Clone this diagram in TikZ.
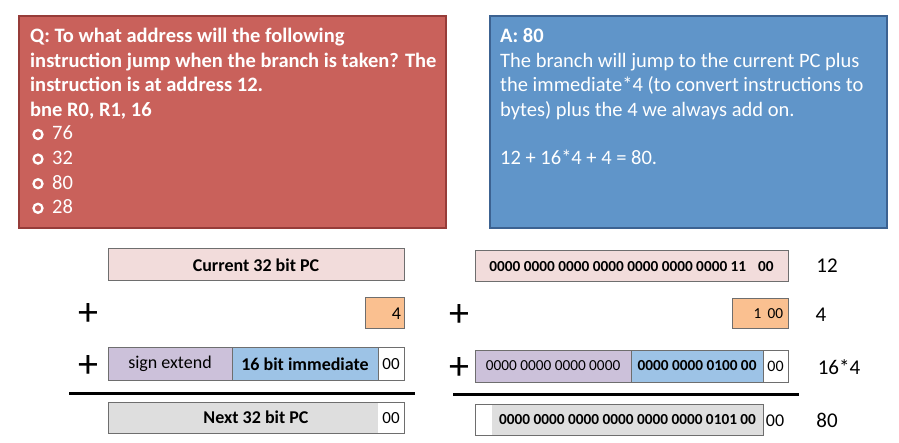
\documentclass[tikz,border=0pt]{standalone}
\usepackage{fontspec}
\setmainfont{Carlito}
\usetikzlibrary{positioning}

\definecolor{qred}{RGB}{201,97,91}
\definecolor{qredline}{RGB}{150,60,57}
\definecolor{ablue}{RGB}{96,149,201}
\definecolor{abluel}{RGB}{60,98,145}
\definecolor{pcpink}{RGB}{242,220,219}
\definecolor{fourorange}{RGB}{250,192,144}
\definecolor{extlav}{RGB}{204,193,218}
\definecolor{immblue}{RGB}{157,195,230}
\definecolor{nextgray}{RGB}{222,222,222}
\definecolor{cellline}{RGB}{110,110,110}

\begin{document}
\begin{tikzpicture}[x=1pt, y=-1pt,
    cardbox/.style={draw, line width=1.4pt, inner sep=0pt, outer sep=0pt, anchor=north west},
    qline/.style={anchor=base west, inner sep=0pt, text=white, font=\fontsize{20.5}{24.5}\selectfont},
    cell/.style={draw=cellline, line width=1pt, inner sep=0pt, outer sep=0pt, anchor=north west,
                 minimum height=32pt, font=\fontsize{18}{20}\selectfont},
    bits/.style={font=\fontsize{15.3}{17}\selectfont},
    plus/.style={inner sep=0pt, font=\fontsize{40}{40}\selectfont},
    sumline/.style={line width=3pt},
    tally/.style={inner sep=0pt, font=\fontsize{21}{24}\selectfont}]
    \useasboundingbox (0,0) rectangle (899,443);

    % Question card
    \node[cardbox, fill=qred, draw=qredline, minimum width=427pt, minimum height=212pt] (qcard) at (19,16) {};
    \foreach \txt [count=\i] in {Q: To what address will the following,
            instruction jump when the branch is taken? The,
            instruction is at address 12., {bne R0, R1, 16}}
        \node[qline] (q\i) at (30,{43+24.5*(\i-1)}) {\bfseries\txt};
    \foreach \opt [count=\i from 0] in {76,32,80,28} {
        \node[draw=white, circle, line width=2.3pt, minimum size=9pt, inner sep=0pt] (ring\opt) at (38,{134.5+24.6*\i}) {};
        \node[qline] (opt\opt) at (52,{140+24.6*\i}) {\opt};
    }

    % Answer card
    \node[cardbox, fill=ablue, draw=abluel, minimum width=397pt, minimum height=212pt] (acard) at (490,16) {};
    \node[qline] (a1) at (500,43) {\bfseries A: 80};
    \foreach \txt [count=\i from 2] in {The branch will jump to the current PC plus,
            the immediate*4 (to convert instructions to,
            bytes) plus the 4 we always add on.}
        \node[qline] (a\i) at (500,{43+24.5*(\i-1)}) {\txt};
    \node[qline] (a5) at (500,165) {12 + 16*4 + 4 = 80.};

    % Symbolic sum (left)
    \node[cell, fill=pcpink, minimum width=296pt] (cur) at (108,249) {\bfseries Current 32 bit PC};
    \node[plus] (plusA) at (88,315) {+};
    \node[cell, fill=fourorange, minimum width=39pt, minimum height=31pt, text width=33pt, align=right] (four) at (365,298) {4};
    \node[plus] (plusB) at (88,367) {+};
    \node[cell, fill=extlav, minimum width=124pt] (sext) at (108,348) {sign extend};
    \node[cell, fill=immblue, minimum width=146pt, right=0pt of sext] (imm) {\bfseries 16 bit immediate};
    \node[cell, fill=white, minimum width=26pt, right=0pt of imm, font=\fontsize{17}{20}\selectfont] (zz) {00};
    \coordinate (sumL) at (69,393);
    \coordinate (sumR) at (415,393);
    \draw[sumline] (sumL) -- (sumR);
    \node[cell, draw=none, fill=nextgray, minimum width=270pt, minimum height=31pt] (nextfill) at (108,402) {};
    \node[cell, minimum width=296pt, minimum height=31pt] (next) at (108,402) {\bfseries Next 32 bit PC};
    \node[inner sep=0pt, font=\fontsize{17}{20}\selectfont] (nextzz) at (391,418) {00};

    % Binary sum (right)
    \node[cell, bits, fill=pcpink, minimum width=313pt, minimum height=31pt] (curb) at (475,251)
        {\bfseries 0000 0000 0000 0000 0000 0000 0000 11\hspace{12pt}00};
    \node[tally] (twelve) at (827,266) {12};
    \node[plus] (plusC) at (459,316) {+};
    \node[cell, bits, fill=fourorange, minimum width=56pt, minimum height=30pt, text width=46pt, align=right] (oneb) at (732,299) {1\hspace{6pt}00};
    \node[tally] (fourlab) at (821,315) {4};
    \node[plus] (plusD) at (459,369) {+};
    \node[cell, bits, fill=extlav, minimum width=156pt] (sextb) at (475,350) {0000 0000 0000 0000};
    \node[cell, bits, fill=immblue, minimum width=132pt, right=0pt of sextb] (immb) {\bfseries 0000 0000 0100 00};
    \node[cell, fill=white, minimum width=25pt, right=0pt of immb, font=\fontsize{16}{20}\selectfont] (zzb) {00};
    \node[tally] (immlab) at (839,367) {16*4};
    \coordinate (sumbL) at (453,394);
    \coordinate (sumbR) at (799,394);
    \draw[sumline] (sumbL) -- (sumbR);
    \node[cell, draw=none, bits, fill=nextgray, minimum width=271pt, minimum height=31pt] (nextbfill) at (492,404)
        {\bfseries 0000 0000 0000 0000 0000 0000 0101 00};
    \node[cell, minimum width=288pt, minimum height=31pt] (nextb) at (475,404) {};
    \node[inner sep=0pt, font=\fontsize{18}{20}\selectfont] (nextbzz) at (775,421) {00};
    \node[tally] (eighty) at (827,420) {80};
\end{tikzpicture}
\end{document}
